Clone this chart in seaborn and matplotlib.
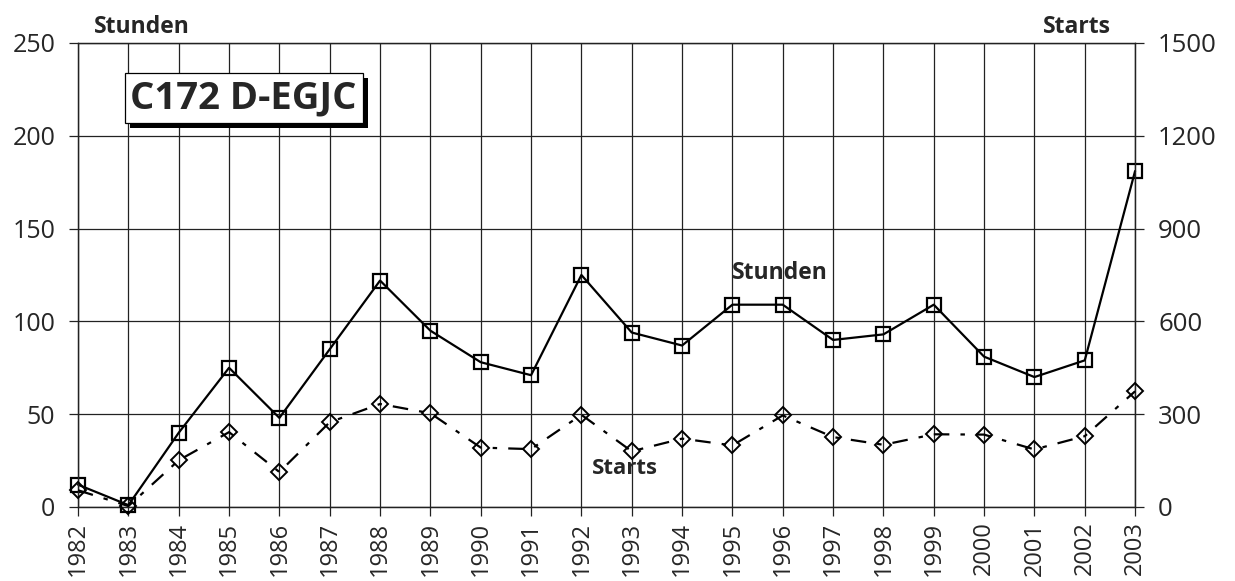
import matplotlib.pyplot as plt
import matplotlib.patheffects as pe
import pandas as pd
import seaborn as sns

years = list(range(1982, 2004))
stunden = [12, 1, 40, 75, 48, 85, 122, 95, 78, 71, 125, 94, 87, 109, 109, 90, 93, 109, 81, 70, 79, 181]
starts = [54, 3, 151, 242, 113, 274, 333, 303, 192, 187, 298, 180, 221, 199, 296, 226, 201, 235, 234, 186, 229, 374]

sns.set_style("white")
plt.rcParams["font.family"] = ["Open Sans", "DejaVu Sans"]

df = pd.DataFrame({"Jahr": years, "Stunden": stunden, "Starts": starts})

fig = plt.figure(figsize=(12.35, 5.81), dpi=100)
ax = fig.add_axes([0.0632, 0.1274, 0.8559, 0.7986])
ax2 = ax.twinx()

sns.lineplot(data=df, x="Jahr", y="Stunden", ax=ax, color="black", linewidth=1.6,
             marker="s", markersize=10, markerfacecolor="none",
             markeredgecolor="black", markeredgewidth=1.6, zorder=3, clip_on=False)
sns.lineplot(data=df, x="Jahr", y="Starts", ax=ax2, color="black", linewidth=1.6,
             linestyle=(0, (7, 5, 2, 5)), marker="D", markersize=8,
             markerfacecolor="none", markeredgecolor="black",
             markeredgewidth=1.4, zorder=3, clip_on=False)

ax.set_xlim(1982, 2003)
ax.set_ylim(0, 250)
ax2.set_ylim(0, 1500)
ax.set_xticks(years)
ax.set_xticklabels([str(y) for y in years], rotation=90, va="top")
ax.set_yticks(range(0, 251, 50))
ax2.set_yticks(range(0, 1501, 300))

ax.grid(True, color="#222222", linewidth=0.9)
ax.set_axisbelow(True)
ax2.grid(False)
ax.set_xlabel("")
ax.set_ylabel("")
ax2.set_ylabel("")

for a in (ax, ax2):
    for sp in ["left", "right", "top", "bottom"]:
        a.spines[sp].set_color("#222222")
        a.spines[sp].set_linewidth(0.9)

ax.tick_params(axis="y", direction="out", length=6.5, width=0.9, color="#222222",
               labelsize=18, pad=10, left=True)
ax.tick_params(axis="x", direction="out", length=6.5, width=0.9, color="#222222",
               labelsize=17, pad=4, bottom=True)
ax2.tick_params(axis="y", direction="out", length=6.5, width=0.9, color="#222222",
                labelsize=18.5, pad=10, right=True)

ax.text(0.0605, 1.0216, "Stunden", transform=ax.transAxes, ha="center",
        va="baseline", fontsize=16.5, fontweight="bold")
ax.text(0.945, 1.0216, "Starts", transform=ax.transAxes, ha="center",
        va="baseline", fontsize=16.5, fontweight="bold")

t = ax.text(0.1566, 0.881, "C172 D-EGJC", transform=ax.transAxes, ha="center",
            va="center", fontsize=27.5, fontweight="bold", zorder=5,
            bbox=dict(boxstyle="square,pad=0.15", facecolor="white",
                      edgecolor="black", linewidth=0.9))
t.get_bbox_patch().set_path_effects([
    pe.SimplePatchShadow(offset=(3.6, -3.6), shadow_rgbFace="black", alpha=1),
    pe.Normal(),
])

ax2.text(0.664, 0.504, "Stunden", transform=ax.transAxes, ha="center",
         va="center", fontsize=16.5, fontweight="bold")
ax2.text(0.5175, 0.082, "Starts", transform=ax.transAxes, ha="center",
         va="center", fontsize=16, fontweight="bold")

fig.savefig("out.png", dpi=100)
